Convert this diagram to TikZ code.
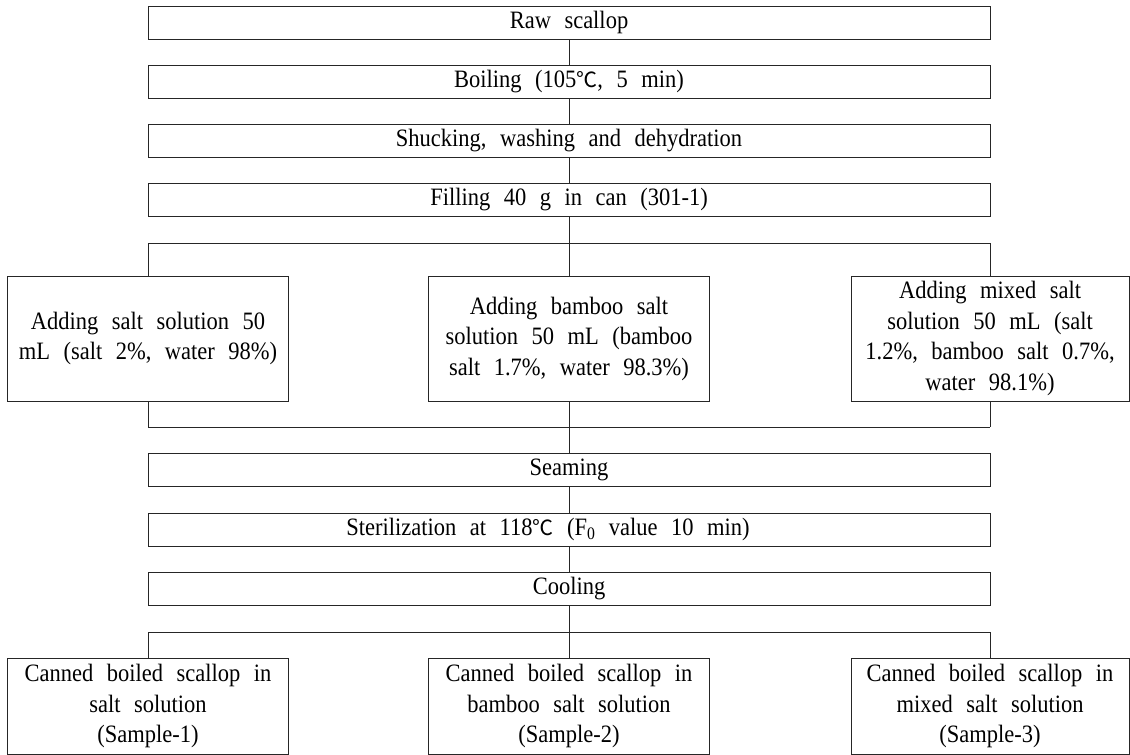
\documentclass[tikz,border=0pt]{standalone}
\usepackage{fontspec}
\setmainfont{Liberation Serif}[FakeStretch=0.9]
\newfontfamily\cjk{Noto Sans CJK KR}
\newcommand\widespc{\spaceskip=13.5pt\relax}
\newcommand\degc{{\cjk\fontsize{21}{30.5}\selectfont ℃}}
\begin{document}
\begin{tikzpicture}[x=1pt,y=-1pt,
  box/.style={draw=black!85, line width=0.8pt, inner sep=0pt, align=center,
    font={\fontsize{25}{30.5}\selectfont\widespc}},
  wbox/.style={box, minimum width=842pt, minimum height=33pt},
  sbox/.style={box, minimum width=281pt, minimum height=#1},
  sboxr/.style={box, minimum width=278pt, minimum height=#1},
  conn/.style={draw=black!85, line width=0.8pt}]
\useasboundingbox (0,0) rectangle (1130,755);
% main column
\node[wbox] (raw)   at (569,22.5)  {Raw scallop};
\node[wbox] (boil)  at (569,81.5)  {Boiling (105\degc, 5 min)};
\node[wbox] (shuck) at (569,140.5) {Shucking, washing and dehydration};
\node[wbox] (fill)  at (569,199.5) {Filling 40 g in can (301-1)};
% adding row
\node[sbox=125pt]  (addL) at (148,338.5) {Adding salt solution 50\\mL (salt 2\%, water 98\%)};
\node[sbox=125pt]  (addM) at (569,338.5) {Adding bamboo salt\\solution 50 mL (bamboo\\salt 1.7\%, water 98.3\%)};
\node[sboxr=125pt] (addR) at (990,338.5) {Adding mixed salt\\solution 50 mL (salt\\1.2\%, bamboo salt 0.7\%,\\water 98.1\%)};
% lower column
\node[wbox] (seam)  at (569,470)   {Seaming};
\node[wbox] (steri) at (569,529.5) {Sterilization at 118\degc{} (F\textsubscript{0} value 10 min)\hspace*{42pt}};
\node[wbox] (cool)  at (569,588.5) {Cooling};
% final row
\node[sbox=96pt]  (s1) at (148,706) {Canned boiled scallop in\\salt solution\\(Sample-1)};
\node[sbox=96pt]  (s2) at (569,706) {Canned boiled scallop in\\bamboo salt solution\\(Sample-2)};
\node[sboxr=96pt] (s3) at (990,706) {Canned boiled scallop in\\mixed salt solution\\(Sample-3)};
% bracket coordinates
\coordinate (aL) at (148,243);
\coordinate (aC) at (569,243);
\coordinate (aR) at (990,243);
\coordinate (bL) at (148,427);
\coordinate (bC) at (569,427);
\coordinate (bR) at (990,427);
\coordinate (cL) at (148,632);
\coordinate (cC) at (569,632);
\coordinate (cR) at (990,632);
% connectors
\draw[conn] (raw.south) -- (boil.north);
\draw[conn] (boil.south) -- (shuck.north);
\draw[conn] (shuck.south) -- (fill.north);
\draw[conn] (fill.south) -- (aC);
\draw[conn] (aL) -- (aR);
\draw[conn] (aL) -- (addL.north);
\draw[conn] (aC) -- (addM.north);
\draw[conn] (aR) -- (addR.north);
\draw[conn] (addL.south) -- (bL);
\draw[conn] (addM.south) -- (bC);
\draw[conn] (addR.south) -- (bR);
\draw[conn] (bL) -- (bR);
\draw[conn] (bC) -- (seam.north);
\draw[conn] (seam.south) -- (steri.north);
\draw[conn] (steri.south) -- (cool.north);
\draw[conn] (cool.south) -- (cC);
\draw[conn] (cL) -- (cR);
\draw[conn] (cL) -- (s1.north);
\draw[conn] (cC) -- (s2.north);
\draw[conn] (cR) -- (s3.north);
\end{tikzpicture}
\end{document}
